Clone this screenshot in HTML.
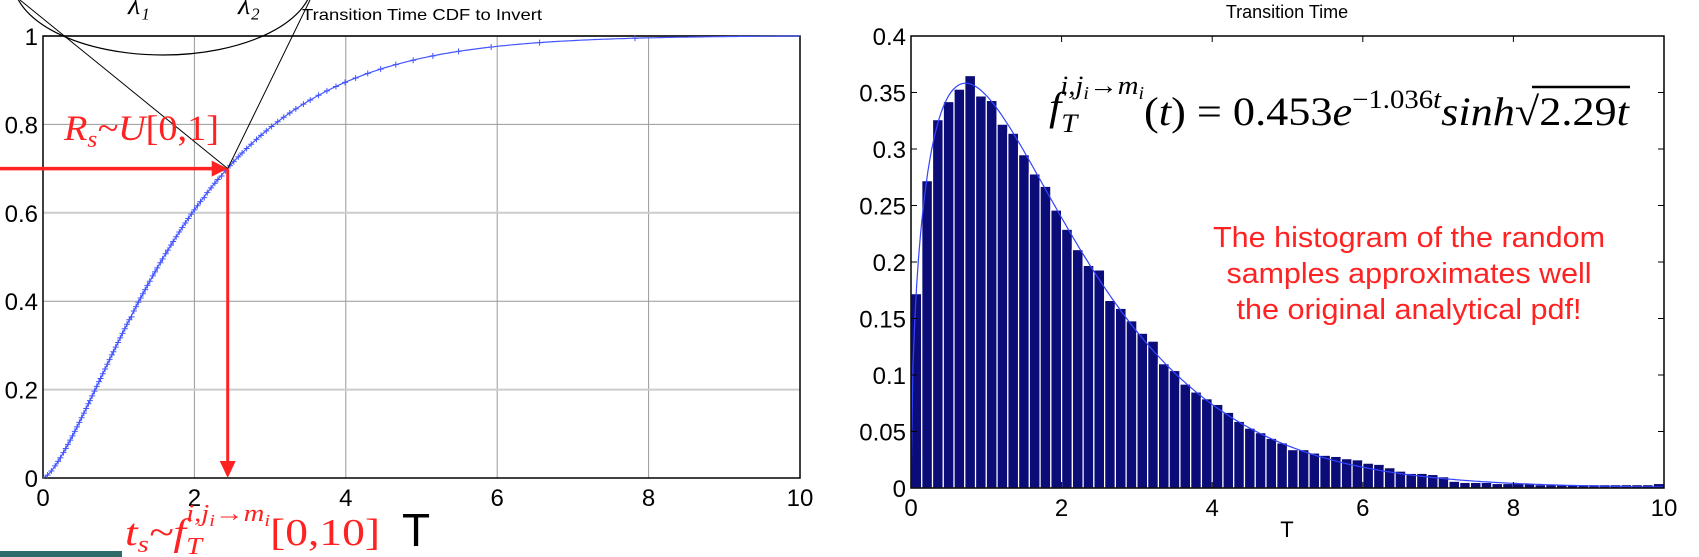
<!DOCTYPE html>
<html><head><meta charset="utf-8"><style>
html,body{margin:0;padding:0;background:#fff;}
svg{display:block;font-family:"Liberation Sans",sans-serif;}
</style></head><body>
<svg id="fig" width="1699" height="557" viewBox="0 0 1699 557">
<g id="left"></g>
<g id="right"></g>
</svg>
<script>
// Histogram data (70 bins over 0..10)
const histValues = [0.172,0.272,0.326,0.342,0.353,0.365,0.347,0.343,0.322,0.314,0.295,0.278,0.267,0.246,0.229,0.211,0.197,0.193,0.166,0.159,0.148,0.137,0.130,0.110,0.104,0.092,0.085,0.079,0.074,0.067,0.059,0.053,0.049,0.044,0.040,0.034,0.034,0.031,0.029,0.028,0.026,0.025,0.022,0.021,0.018,0.015,0.013,0.013,0.012,0.010,0.006,0.005,0.005,0.005,0.004,0.004,0.004,0.004,0.003,0.003,0.003,0.003,0.003,0.003,0.003,0.003,0.003,0.003,0.003,0.004];
const pdfParams = [0.453, 1.036, 2.29];
const leftXTicks = ["0","2","4","6","8","10"];
const leftYTicks = ["0","0.2","0.4","0.6","0.8","1"];
const rightXTicks = ["0","2","4","6","8","10"];
const rightYTicks = ["0","0.05","0.1","0.15","0.2","0.25","0.3","0.35","0.4"];
const sampleR = [0.7];

const NS="http://www.w3.org/2000/svg";
function mk(parent,tag,attrs,text){const e=document.createElementNS(NS,tag);for(const k in attrs)e.setAttribute(k,attrs[k]);if(text!==undefined)e.textContent=text;parent.appendChild(e);return e;}
function pdf(t){return pdfParams[0]*Math.exp(-pdfParams[1]*t)*Math.sinh(Math.sqrt(pdfParams[2]*t));}
const cdfT=[],cdfV=[];{let acc=0,dt=0.01;for(let i=0;i<=1000;i++){const t=i*dt;if(i>0)acc+=0.5*(pdf(t)+pdf(t-dt))*dt;cdfT.push(t);cdfV.push(acc);}const tot=cdfV[cdfV.length-1];for(let i=0;i<cdfV.length;i++)cdfV[i]/=tot;}
function cdf(t){const i=Math.min(999,Math.floor(t/0.01));return cdfV[i];}
function invCdf(r){for(let i=0;i<cdfV.length;i++)if(cdfV[i]>=r)return cdfT[i];return 10;}

// LEFT CHART
const L=document.getElementById('left');
const lx=v=>43+v/10*757, ly=v=>478-v*442;
for(let i=0;i<leftXTicks.length;i++){const v=+leftXTicks[i];
 const g=mk(L,'line',{x1:lx(v),x2:lx(v),y1:36,y2:478,stroke:'#999','stroke-width':1});
 
 const t=mk(L,'text',{x:lx(v),y:506,'font-size':24,'text-anchor':'middle'},leftXTicks[i]);
 }
for(let i=0;i<leftYTicks.length;i++){const v=+leftYTicks[i];
 const g=mk(L,'line',{x1:43,x2:800,y1:ly(v),y2:ly(v),stroke:(i%2?'#ccc':'#999'),'stroke-width':(i%2?2:1)});
 
 const t=mk(L,'text',{x:38,y:ly(v)+9,'font-size':24,'text-anchor':'end'},leftYTicks[i]);
 }
mk(L,'rect',{x:43,y:36,width:757,height:442,fill:'none',stroke:'#000','stroke-width':1.5,});
let d='';for(let i=0;i<=1000;i+=5){d+=(i?'L':'M')+lx(cdfT[i]).toFixed(1)+' '+ly(cdfV[i]).toFixed(1);}
mk(L,'path',{d:d,fill:'none',stroke:'#4455ff','stroke-width':1.2,});
for(let r=0.005;r<0.999;r+=0.01){const t=invCdf(r);const x=lx(t),y=ly(cdf(t));
 const m=mk(L,'path',{d:`M${x-3} ${y}h6M${x} ${y-3}v6`,stroke:'#4455ff','stroke-width':1});
 }
const ts=invCdf(sampleR[0]);const px=lx(ts),py=ly(sampleR[0]);
mk(L,'ellipse',{cx:163,cy:-20,rx:150,ry:75,fill:'none',stroke:'#000','stroke-width':1.2,});
mk(L,'path',{d:`M20 0L${px} ${py}L310 0`,fill:'none',stroke:'#000','stroke-width':1,});
mk(L,'text',{x:128,y:14,'font-size':28,'font-style':'italic','font-family':'Liberation Serif,serif',},'λ₁');
mk(L,'text',{x:238,y:14,'font-size':28,'font-style':'italic','font-family':'Liberation Serif,serif',},'λ₂');
mk(L,'text',{x:302,y:20,'font-size':16,textLength:240,lengthAdjust:'spacingAndGlyphs',},'Transition Time CDF to Invert');
mk(L,'line',{x1:0,y1:py,x2:px-14,y2:py,stroke:'#f22','stroke-width':3.5,});
mk(L,'path',{d:`M${px} ${py}l-16 -8v16z`,fill:'#f22',});
mk(L,'line',{x1:px,y1:py,x2:px,y2:462,stroke:'#f22','stroke-width':3,});
mk(L,'path',{d:`M${px} 478l-8 -17h16z`,fill:'#f22',});
const rl=mk(L,'text',{x:64,y:140,'font-size':36,fill:'#f22','font-family':'Liberation Serif,serif','font-style':'italic',textLength:155,lengthAdjust:'spacingAndGlyphs',});
rl.innerHTML='R<tspan font-size="24" dy="7">s</tspan><tspan dy="-7">~U</tspan><tspan font-style="normal">[0,1]</tspan>';
const tl=mk(L,'text',{x:125,y:545,'font-size':38,fill:'#f22','font-family':'Liberation Serif,serif','font-style':'italic',textLength:255,lengthAdjust:'spacingAndGlyphs',});
tl.innerHTML='t<tspan font-size="24" dy="7">s</tspan><tspan dy="-7">~f</tspan><tspan font-size="24" dy="9">T</tspan><tspan font-size="24" dy="-33" dx="-12">i,j</tspan><tspan font-size="17" dy="5">i</tspan><tspan font-size="24" dy="-5">→m</tspan><tspan font-size="17" dy="5">i</tspan><tspan font-style="normal" dy="19">[0,10]</tspan>';
mk(L,'text',{x:402,y:546,'font-size':46,},'T');
mk(L,'rect',{x:0,y:551,width:122,height:6,fill:'#2e6b6b',});

// RIGHT CHART
const R=document.getElementById('right');
const rx=v=>911+v/10*753, ry=v=>488-v/0.4*452;
const bw=10/histValues.length;
for(let i=0;i<histValues.length;i++){
 const b=mk(R,'rect',{x:rx(i*bw),y:ry(histValues[i]),width:rx(bw)-rx(0),height:ry(0)-ry(histValues[i]),fill:'#0c0c78',stroke:'#fff','stroke-width':1.2});
 }
let d2='';for(let i=0;i<=400;i++){const t=i*0.025;d2+=(i?'L':'M')+rx(t).toFixed(1)+' '+ry(pdf(t)).toFixed(1);}
mk(R,'path',{d:d2,fill:'none',stroke:'#3344ff','stroke-width':1.2,});
mk(R,'rect',{x:911,y:36,width:753,height:452,fill:'none',stroke:'#000','stroke-width':1.5,});
for(let i=0;i<rightXTicks.length;i++){const v=+rightXTicks[i];
 const tk=mk(R,'path',{d:`M${rx(v)} 488v-6M${rx(v)} 36v6`,stroke:'#000'});
 
 const t=mk(R,'text',{x:rx(v),y:516,'font-size':24,'text-anchor':'middle'},rightXTicks[i]);
 }
for(let i=0;i<rightYTicks.length;i++){const v=+rightYTicks[i];
 const tk=mk(R,'path',{d:`M911 ${ry(v)}h6M1664 ${ry(v)}h-6`,stroke:'#000'});
 
 const t=mk(R,'text',{x:906,y:ry(v)+9,'font-size':24,'text-anchor':'end'},rightYTicks[i]);
 }
mk(R,'text',{x:1287,y:537,'font-size':22,'text-anchor':'middle',},'T');
mk(R,'text',{x:1287,y:18,'font-size':18,'text-anchor':'middle',},'Transition Time');
const fm=mk(R,'text',{x:1049,y:120,'font-size':40,'font-family':'Liberation Serif,serif',textLength:580,lengthAdjust:'spacingAndGlyphs',});
fm.innerHTML='<tspan font-style="italic">f</tspan><tspan font-size="26" font-style="italic" dy="12">T</tspan><tspan font-size="26" font-style="italic" dy="-38" dx="-14">i,j</tspan><tspan font-size="18" font-style="italic" dy="5">i</tspan><tspan font-size="26" font-style="italic" dy="-5">→m</tspan><tspan font-size="18" font-style="italic" dy="5">i</tspan><tspan dy="26">(</tspan><tspan font-style="italic">t</tspan><tspan>) = 0.453</tspan><tspan font-style="italic">e</tspan><tspan font-size="26" dy="-17">−1.036</tspan><tspan font-size="26" font-style="italic">t</tspan><tspan font-style="italic" dy="17">sinh</tspan><tspan>√</tspan><tspan>2.29</tspan><tspan font-style="italic">t</tspan>';
mk(R,'line',{x1:1532,y1:87,x2:1630,y2:87,stroke:'#000','stroke-width':2.5,});
const red=['The histogram of the random','samples approximates well','the original analytical pdf!'];
const redW=[392,365,345];
for(let i=0;i<red.length;i++){const t=mk(R,'text',{x:1409,y:247+i*36,'font-size':29,fill:'#f22','text-anchor':'middle',textLength:redW[i],lengthAdjust:'spacingAndGlyphs'},red[i]);
 }
</script>
</body></html>
